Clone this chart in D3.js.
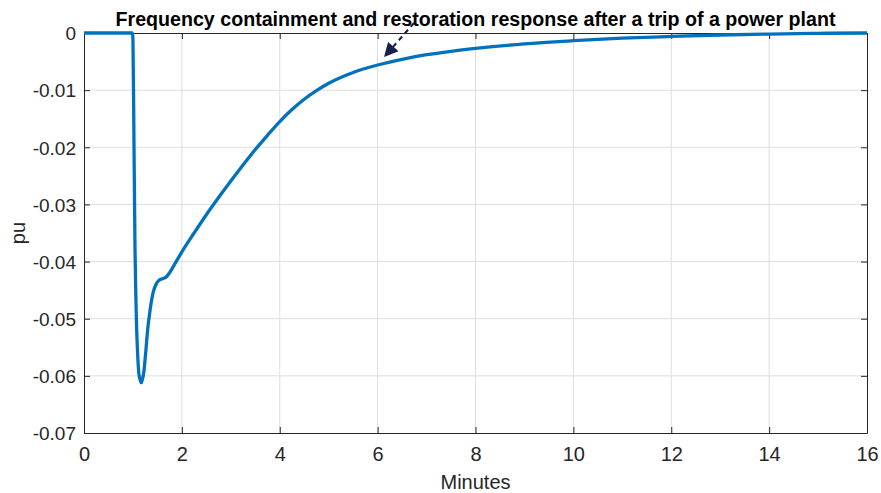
<!DOCTYPE html>
<html>
<head>
<meta charset="utf-8">
<script src="https://cdn.jsdelivr.net/npm/d3@7"></script>
<style>
  body { margin: 0; background: #fff; }
  text { font-family: "Liberation Sans", Arial, sans-serif; fill: #262626; }
</style>
</head>
<body>
<div id="chart"></div>
<script>
// values
const minutes = [0, 0.99, 1.0, 1.02, 1.04, 1.07, 1.09, 1.12, 1.15, 1.17, 1.19, 1.22, 1.26, 1.30, 1.35,
  1.41, 1.47, 1.53, 1.60, 1.68, 1.76, 1.85, 2.0, 2.25, 2.5, 2.75, 3.0, 3.25, 3.5, 3.75, 4.0,
  4.25, 4.5, 4.75, 5.0, 5.5, 6.0, 6.5, 7.0, 7.5, 8.0, 9.0, 10.0, 11.0, 12.0, 13.0, 14.0, 15.0, 16.0];
const puValues = [0, 0, -0.001, -0.018, -0.036, -0.050, -0.055, -0.0595, -0.0608, -0.0612, -0.0607,
  -0.0595, -0.056, -0.052, -0.0485, -0.0455, -0.0440, -0.0433, -0.0430, -0.0427, -0.0418, -0.0405,
  -0.0383, -0.0350, -0.0318, -0.0288, -0.0259, -0.0231, -0.0204, -0.0179, -0.0155,
  -0.0134, -0.0116, -0.0101, -0.0088, -0.0069, -0.0056, -0.0046, -0.0038, -0.0032, -0.0027,
  -0.0019, -0.00135, -0.0009, -0.0006, -0.00035, -0.00018, -0.00006, 0];
const xTicks = [0, 2, 4, 6, 8, 10, 12, 14, 16];
const yTicks = [0, -0.01, -0.02, -0.03, -0.04, -0.05, -0.06, -0.07];
const yTickLabels = ['0', '-0.01', '-0.02', '-0.03', '-0.04', '-0.05', '-0.06', '-0.07'];
const titleText = 'Frequency containment and restoration response after a trip of a power plant';

const W = 881, H = 493;
const margin = { top: 33, right: 14, bottom: 60, left: 84 };
const width = W - margin.left - margin.right;
const height = H - margin.top - margin.bottom;

const svg = d3.select('#chart').append('svg')
  .attr('width', W).attr('height', H);

const chart = svg.append('g')
  .attr('transform', `translate(${margin.left},${margin.top})`);

const xScale = d3.scaleLinear().domain([0, 16]).range([0, width]);
const yScale = d3.scaleLinear().domain([-0.07, 0]).range([height, 0]);

// grid
chart.append('g').selectAll('line').data(xTicks.slice(1, -1)).join('line')
  .attr('x1', d => xScale(d)).attr('x2', d => xScale(d))
  .attr('y1', 0).attr('y2', height)
  .attr('stroke', '#dfdfdf').attr('stroke-width', 1);
chart.append('g').selectAll('line').data(yTicks.slice(1, -1)).join('line')
  .attr('y1', d => yScale(d)).attr('y2', d => yScale(d))
  .attr('x1', 0).attr('x2', width)
  .attr('stroke', '#dfdfdf').attr('stroke-width', 1);

// axes (MATLAB box style: inward ticks)
const xAxis = d3.axisBottom(xScale).tickValues(xTicks).tickSizeInner(-6).tickSizeOuter(0).tickPadding(14);
const yAxis = d3.axisLeft(yScale).tickValues(yTicks).tickSizeInner(-6).tickSizeOuter(0).tickPadding(8)
  .tickFormat((d, i) => yTickLabels[i]);

const xAxisG = chart.append('g').attr('transform', `translate(0,${height})`).call(xAxis);
const yAxisG = chart.append('g').call(yAxis);
chart.append('g').call(d3.axisTop(xScale).tickValues(xTicks).tickSizeInner(-6).tickSizeOuter(0).tickFormat(''));
chart.append('g').attr('transform', `translate(${width},0)`)
  .call(d3.axisRight(yScale).tickValues(yTicks).tickSizeInner(-6).tickSizeOuter(0).tickFormat(''));

chart.selectAll('.domain').attr('stroke', '#262626').attr('stroke-width', 1);
chart.selectAll('.tick line').attr('stroke', '#262626');
xAxisG.selectAll('text').style('font-size', '20px').style('fill', '#262626')
  .style('font-family', '"Liberation Sans", Arial, sans-serif');
yAxisG.selectAll('text').style('font-size', '19px').style('fill', '#262626')
  .style('font-family', '"Liberation Sans", Arial, sans-serif').attr('dy', '0.36em');

// data line
const points = minutes.map((m, i) => ({ t: m, v: puValues[i] }));
const line = d3.line()
  .x(d => xScale(d.t))
  .y(d => yScale(d.v))
  .curve(d3.curveMonotoneX);

chart.append('path')
  .datum(points)
  .attr('d', line)
  .attr('fill', 'none')
  .attr('stroke', '#0072BD')
  .attr('stroke-width', 3.3)
  .attr('stroke-linejoin', 'round');

// annotation arrow
const defs = svg.append('defs');
defs.append('marker')
  .attr('id', 'head').attr('viewBox', '0 0 10 10')
  .attr('refX', 9).attr('refY', 5)
  .attr('markerWidth', 15).attr('markerHeight', 14)
  .attr('markerUnits', 'userSpaceOnUse')
  .attr('orient', 'auto')
  .append('path').attr('d', 'M0,0 L10,5 L0,10 Z').attr('fill', '#15204d');

svg.append('line')
  .attr('x1', 414).attr('y1', 23).attr('x2', 385).attr('y2', 56)
  .attr('stroke', '#15204d').attr('stroke-width', 2)
  .attr('stroke-dasharray', '5,4')
  .attr('marker-end', 'url(#head)');

// title and axis labels
svg.append('text')
  .attr('x', margin.left + width / 2).attr('y', 26)
  .attr('text-anchor', 'middle')
  .attr('textLength', 720).attr('lengthAdjust', 'spacingAndGlyphs')
  .style('font-size', '20px').style('font-weight', 'bold').style('fill', '#000')
  .text(titleText);

svg.append('text')
  .attr('x', margin.left + width / 2).attr('y', 489)
  .attr('text-anchor', 'middle')
  .style('font-size', '20px')
  .text('Minutes');

svg.append('text')
  .attr('transform', `translate(25,${margin.top + height / 2}) rotate(-90)`)
  .attr('text-anchor', 'middle')
  .style('font-size', '20px')
  .text('pu');
</script>
</body>
</html>
